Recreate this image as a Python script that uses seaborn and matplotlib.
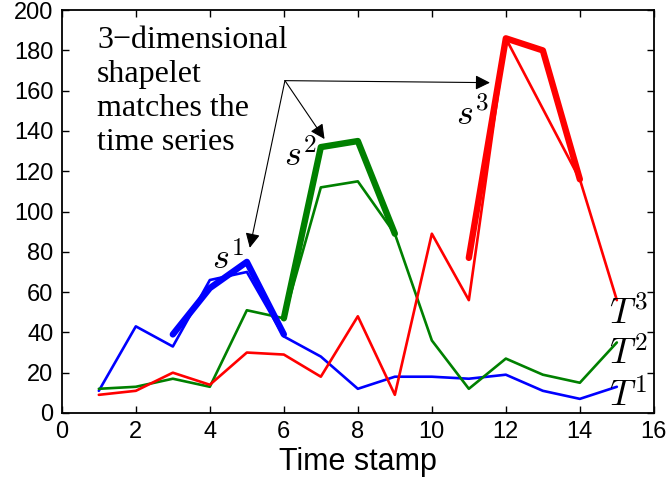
import numpy as np
import pandas as pd
import matplotlib
matplotlib.use("Agg")
import matplotlib.pyplot as plt
import seaborn as sns

# Time series values
time = list(range(1, 16))
t1 = [11, 43, 33, 66, 70, 38, 28, 12, 18, 18, 17, 19, 11, 7, 13]
t2 = [12, 13, 17, 13, 51, 47, 112, 115, 89, 36, 12, 27, 19, 15, 35]
t3 = [9, 11, 20, 14, 30, 29, 18, 48, 9, 89, 56, 186, 151, 116, 56]

# Shapelet segments (time points, values)
s1_time = [3, 4, 5, 6]
s1 = [39, 62, 75, 39]
s2_time = [6, 7, 8, 9]
s2 = [47, 132, 135, 89]
s3_time = [11, 12, 13, 14]
s3 = [77, 186, 180, 116]

x_ticks = list(range(0, 17, 2))
y_ticks = list(range(0, 201, 20))

sns.set_theme(style="ticks")
plt.rcParams["font.family"] = ["Liberation Sans", "DejaVu Sans"]
plt.rcParams["mathtext.fontset"] = "cm"
plt.rcParams["xtick.direction"] = "in"
plt.rcParams["ytick.direction"] = "in"
plt.rcParams["text.color"] = "black"
plt.rcParams["axes.labelcolor"] = "black"
plt.rcParams["xtick.color"] = "black"
plt.rcParams["ytick.color"] = "black"

fig = plt.figure(figsize=(6.72, 4.83), dpi=100)
ax = fig.add_axes([0.092, 0.145, 0.881, 0.834])

blue = (0, 0, 1)
green = (0, 0.5, 0)
red = (1, 0, 0)

df = pd.DataFrame({"time": time, "T1": t1, "T2": t2, "T3": t3})
thin = 1.9
thick = 4.6
sns.lineplot(data=df, x="time", y="T1", color=blue, lw=thin, ax=ax)
sns.lineplot(data=df, x="time", y="T2", color=green, lw=thin, ax=ax)
sns.lineplot(data=df, x="time", y="T3", color=red, lw=thin, ax=ax)

sns.lineplot(x=s1_time, y=s1, color=blue, lw=thick, ax=ax)
sns.lineplot(x=s2_time, y=s2, color=green, lw=thick, ax=ax)
sns.lineplot(x=s3_time, y=s3, color=red, lw=thick, ax=ax)

ax.set_xlim(0, 16)
ax.set_ylim(0, 200)
ax.set_xticks(x_ticks)
ax.set_yticks(y_ticks)
ax.tick_params(axis="both", labelsize=17, length=5, width=1, top=True, right=True,
               colors="black")
ax.tick_params(axis="y", pad=6)
ax.tick_params(axis="x", pad=6)
for sp in ax.spines.values():
    sp.set_linewidth(1.3)
    sp.set_color("black")
ax.set_xlabel("Time stamp", fontsize=22, labelpad=3, color="black")
ax.set_ylabel("")

# Annotation text and arrows
ax.text(0.95, 192, "3\u2212dimensional\nshapelet\nmatches the\ntime series",
        family=["Liberation Serif", "DejaVu Serif"], fontsize=23, va="top", ha="left",
        linespacing=1.22, color="black")
origin = (6.03, 165)
for tip in [(5.08, 82), (7.1, 136), (11.57, 164)]:
    ax.annotate("", xy=tip, xytext=origin,
                arrowprops=dict(arrowstyle="-|>", color="black", lw=0.8,
                                mutation_scale=22, shrinkA=0, shrinkB=0))

# Labels for shapelets and series
lab = 26
ax.text(4.05, 71, r"$s^1$", fontsize=lab, va="baseline")
ax.text(6.0, 122, r"$s^2$", fontsize=lab, va="baseline")
ax.text(10.65, 143, r"$s^3$", fontsize=lab, va="baseline")
ax.text(14.8, 44, r"$T^3$", fontsize=lab, va="baseline")
ax.text(14.8, 24, r"$T^2$", fontsize=lab, va="baseline")
ax.text(14.8, 3, r"$T^1$", fontsize=lab, va="baseline")

fig.savefig("out.png", dpi=100)
